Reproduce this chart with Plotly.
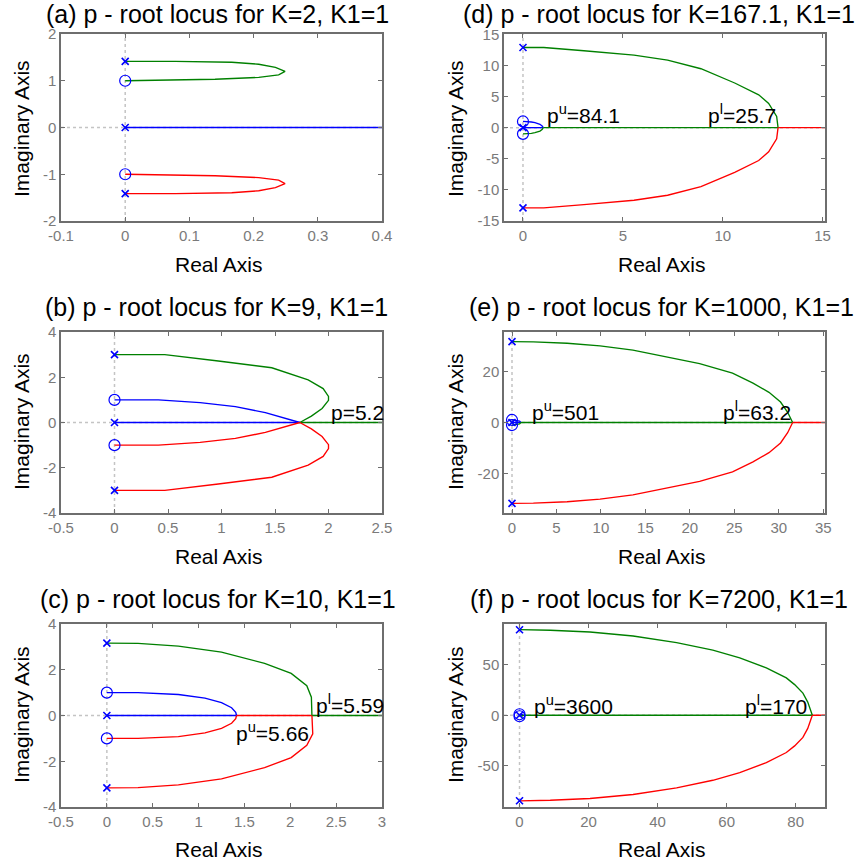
import plotly.graph_objects as go
from plotly.subplots import make_subplots

BLUE = "#0000ff"
GREEN = "#008000"
RED = "#ff0000"
FONT = "Liberation Sans, Arial, sans-serif"

# ---------------- (a) K=2 ----------------
A_POLE_RE = [0.0, 0.0, 0.0]
A_POLE_IM = [1.414, 0.0, -1.414]
A_ZERO_RE = [0.0, 0.0]
A_ZERO_IM = [1.0, -1.0]
A_UP_RE = [0.0, 0.078, 0.166, 0.208, 0.234, 0.249, 0.239, 0.208, 0.140, 0.078, 0.0]
A_UP_IM = [1.414, 1.414, 1.396, 1.353, 1.287, 1.20, 1.127, 1.072, 1.033, 1.018, 1.0]
A_LO_RE = [0.0, 0.078, 0.166, 0.208, 0.234, 0.249, 0.239, 0.208, 0.140, 0.078, 0.0]
A_LO_IM = [-1.414, -1.414, -1.396, -1.353, -1.287, -1.20, -1.127, -1.072, -1.033, -1.018, -1.0]
A_AXIS_RE = [0.0, 0.5]
A_AXIS_IM = [0.0, 0.0]

# ---------------- (b) K=9 ----------------
B_POLE_RE = [0.0, 0.0, 0.0]
B_POLE_IM = [3.0, 0.0, -3.0]
B_ZERO_RE = [0.0, 0.0]
B_ZERO_IM = [1.0, -1.0]
B_OUT_UP_RE = [0.0, 0.47, 0.97, 1.47, 1.81, 1.95, 2.0, 2.0, 1.94, 1.84, 1.732]
B_OUT_UP_IM = [3.0, 3.0, 2.72, 2.42, 1.88, 1.5, 1.15, 0.98, 0.62, 0.28, 0.0]
B_OUT_LO_RE = [0.0, 0.47, 0.97, 1.47, 1.81, 1.95, 2.0, 2.0, 1.94, 1.84, 1.732]
B_OUT_LO_IM = [-3.0, -3.0, -2.72, -2.42, -1.88, -1.5, -1.15, -0.98, -0.62, -0.28, 0.0]
B_IN_UP_RE = [0.0, 0.41, 0.80, 1.13, 1.41, 1.732]
B_IN_UP_IM = [1.0, 1.0, 0.88, 0.70, 0.44, 0.0]
B_IN_LO_RE = [0.0, 0.41, 0.80, 1.13, 1.41, 1.732]
B_IN_LO_IM = [-1.0, -1.0, -0.88, -0.70, -0.44, 0.0]
B_AXIS1_RE = [0.0, 1.732]
B_AXIS2_RE = [1.732, 3.0]

# ---------------- (c) K=10 ----------------
C_POLE_RE = [0.0, 0.0, 0.0]
C_POLE_IM = [3.162, 0.0, -3.162]
C_ZERO_RE = [0.0, 0.0]
C_ZERO_IM = [1.0, -1.0]
C_OUT_UP_RE = [0.0, 0.34, 0.78, 1.25, 1.72, 2.01, 2.18, 2.23, 2.236]
C_OUT_UP_IM = [3.162, 3.15, 3.03, 2.77, 2.28, 1.84, 1.30, 0.80, 0.0]
C_OUT_LO_RE = [0.0, 0.34, 0.78, 1.25, 1.72, 2.01, 2.18, 2.245, 2.236]
C_OUT_LO_IM = [-3.162, -3.15, -3.03, -2.77, -2.28, -1.84, -1.30, -0.80, 0.0]
C_IN_UP_RE = [0.0, 0.34, 0.78, 1.07, 1.25, 1.36, 1.405, 1.414]
C_IN_UP_IM = [1.0, 1.0, 0.92, 0.76, 0.56, 0.34, 0.14, 0.0]
C_IN_LO_RE = [0.0, 0.34, 0.78, 1.07, 1.25, 1.36, 1.405, 1.414]
C_IN_LO_IM = [-1.0, -1.0, -0.92, -0.76, -0.56, -0.34, -0.14, 0.0]
C_AXIS1_RE = [0.0, 1.414]
C_AXIS2_RE = [1.414, 2.236]
C_AXIS3_RE = [2.236, 3.5]

# ---------------- (d) K=167.1 ----------------
D_POLE_RE = [0.0, 0.0, 0.0]
D_POLE_IM = [12.93, 0.0, -12.93]
D_ZERO_RE = [0.0, 0.0]
D_ZERO_IM = [1.0, -1.0]
D_OUT_UP_RE = [0.0, 1.04, 3.05, 5.56, 7.24, 8.91, 10.6, 11.8, 12.3, 12.7, 12.77]
D_OUT_UP_IM = [12.93, 12.93, 12.4, 11.7, 10.9, 9.5, 7.2, 5.3, 3.9, 1.8, 0.0]
D_OUT_LO_RE = [0.0, 1.04, 3.05, 5.56, 7.24, 8.91, 10.6, 11.8, 12.3, 12.7, 12.77]
D_OUT_LO_IM = [-12.93, -12.93, -12.4, -11.7, -10.9, -9.5, -7.2, -5.3, -3.9, -1.8, 0.0]
D_IN_UP_RE = [0.0, 0.21, 0.42, 0.60, 0.85, 0.97, 1.01]
D_IN_UP_IM = [1.0, 0.98, 0.91, 0.80, 0.55, 0.25, 0.0]
D_IN_LO_RE = [0.0, 0.21, 0.42, 0.60, 0.85, 0.97, 1.01]
D_IN_LO_IM = [-1.0, -0.98, -0.91, -0.80, -0.55, -0.25, 0.0]
D_AXIS1_RE = [0.0, 1.01]
D_AXIS2_RE = [1.01, 12.77]
D_AXIS3_RE = [12.77, 17.0]

# ---------------- (e) K=1000 ----------------
E_POLE_RE = [0.0, 0.0, 0.0]
E_POLE_IM = [31.62, 0.0, -31.62]
E_ZERO_RE = [0.0, 0.0]
E_ZERO_IM = [1.0, -1.0]
E_OUT_UP_RE = [0.0, 2.4, 6.2, 9.9, 13.6, 17.4, 21.1, 24.8, 27.1, 28.9, 30.2, 31.0, 31.56]
E_OUT_UP_IM = [31.62, 31.55, 31.0, 30.0, 28.3, 25.6, 23.0, 19.3, 15.4, 11.8, 8.0, 4.0, 0.0]
E_OUT_LO_RE = [0.0, 2.4, 6.2, 9.9, 13.6, 17.4, 21.1, 24.8, 27.1, 28.9, 30.2, 31.0, 31.56]
E_OUT_LO_IM = [-31.62, -31.55, -31.0, -30.0, -28.3, -25.6, -23.0, -19.3, -15.4, -11.8, -8.0, -4.0, 0.0]
E_IN_UP_RE = [0.0, 0.42, 0.85, 1.0]
E_IN_UP_IM = [1.0, 0.91, 0.55, 0.0]
E_IN_LO_RE = [0.0, 0.42, 0.85, 1.0]
E_IN_LO_IM = [-1.0, -0.91, -0.55, 0.0]
E_AXIS1_RE = [0.0, 1.0]
E_AXIS2_RE = [1.0, 31.56]
E_AXIS3_RE = [31.56, 40.0]

# ---------------- (f) K=7200 ----------------
F_POLE_RE = [0.0, 0.0, 0.0]
F_POLE_IM = [84.85, 0.0, -84.85]
F_ZERO_RE = [0.0, 0.0]
F_ZERO_IM = [1.0, -1.0]
F_OUT_UP_RE = [0.0, 8.9, 20.4, 32.9, 45.5, 56.0, 63.8, 71.5, 77.3, 79.7, 82.1, 83.5, 84.83]
F_OUT_UP_IM = [84.85, 84.3, 82.6, 78.6, 72.0, 64.5, 57.0, 47.0, 37.0, 30.4, 22.0, 13.0, 0.0]
F_OUT_LO_RE = [0.0, 8.9, 20.4, 32.9, 45.5, 56.0, 63.8, 71.5, 77.3, 79.7, 82.1, 83.5, 84.83]
F_OUT_LO_IM = [-84.85, -84.3, -82.6, -78.6, -72.0, -64.5, -57.0, -47.0, -37.0, -30.4, -22.0, -13.0, 0.0]
F_IN_UP_RE = [0.0, 0.42, 0.85, 1.0]
F_IN_UP_IM = [1.0, 0.91, 0.55, 0.0]
F_IN_LO_RE = [0.0, 0.42, 0.85, 1.0]
F_IN_LO_IM = [-1.0, -0.91, -0.55, 0.0]
F_AXIS1_RE = [0.0, 1.0]
F_AXIS2_RE = [1.0, 84.83]
F_AXIS3_RE = [84.83, 95.0]

# ---------------- axes: ranges and ticks ----------------
A_XRANGE, A_YRANGE = [-0.1, 0.4], [-2, 2]
A_XTICKS, A_YTICKS = [-0.1, 0, 0.1, 0.2, 0.3, 0.4], [-2, -1, 0, 1, 2]
B_XRANGE, B_YRANGE = [-0.5, 2.5], [-4, 4]
B_XTICKS, B_YTICKS = [-0.5, 0, 0.5, 1, 1.5, 2, 2.5], [-4, -2, 0, 2, 4]
C_XRANGE, C_YRANGE = [-0.5, 3], [-4, 4]
C_XTICKS, C_YTICKS = [-0.5, 0, 0.5, 1, 1.5, 2, 2.5, 3], [-4, -2, 0, 2, 4]
D_XRANGE, D_YRANGE = [-0.95, 15.12], [-15.05, 15.1]
D_XTICKS, D_YTICKS = [0, 5, 10, 15], [-15, -10, -5, 0, 5, 10, 15]
E_XRANGE, E_YRANGE = [-0.9, 35.2], [-35.4, 35.4]
E_XTICKS, E_YTICKS = [0, 5, 10, 15, 20, 25, 30, 35], [-20, 0, 20]
F_XRANGE, F_YRANGE = [-4.5, 88.5], [-91.0, 90.5]
F_XTICKS, F_YTICKS = [0, 20, 40, 60, 80], [-50, 0, 50]

TITLES = [
    "(a) p - root locus for K=2, K1=1",
    "(d) p - root locus for K=167.1, K1=1",
    "(b) p - root locus for K=9, K1=1",
    "(e) p - root locus for K=1000, K1=1",
    "(c) p - root locus for K=10, K1=1",
    "(f) p - root locus for K=7200, K1=1",
]

W, H = 862, 867
fig = make_subplots(rows=3, cols=2)

# panel geometry in pixels: (left, right) and (top, bottom)
COLS = [(61, 382), (504, 825)]
ROWS = [(34, 221), (332, 513), (624, 807)]


def px(x):
    return x / W


def py(y):
    return 1 - y / H


def branch(row, col, re, im, color):
    fig.add_trace(go.Scatter(x=re, y=im, mode="lines",
                             line=dict(color=color, width=1.35),
                             showlegend=False, hoverinfo="skip"),
                  row=row, col=col)


def marks(row, col, pre, pim, zre, zim):
    fig.add_trace(go.Scatter(x=zre, y=zim, mode="markers",
                             marker=dict(symbol="circle-open", size=11,
                                         color=BLUE, line=dict(width=1.2, color=BLUE)),
                             showlegend=False, hoverinfo="skip"),
                  row=row, col=col)
    fig.add_trace(go.Scatter(x=pre, y=pim, mode="markers",
                             marker=dict(symbol="x-thin", size=7,
                                         color=BLUE, line=dict(width=1.6, color=BLUE)),
                             showlegend=False, hoverinfo="skip"),
                  row=row, col=col)


def zeros_like(seq):
    return [0.0 for _ in seq]


# (a)
branch(1, 1, A_AXIS_RE, A_AXIS_IM, BLUE)
branch(1, 1, A_UP_RE, A_UP_IM, GREEN)
branch(1, 1, A_LO_RE, A_LO_IM, RED)
marks(1, 1, A_POLE_RE, A_POLE_IM, A_ZERO_RE, A_ZERO_IM)

# (b)
branch(2, 1, B_AXIS1_RE, zeros_like(B_AXIS1_RE), BLUE)
branch(2, 1, B_AXIS2_RE, zeros_like(B_AXIS2_RE), GREEN)
branch(2, 1, B_IN_UP_RE, B_IN_UP_IM, BLUE)
branch(2, 1, B_IN_LO_RE, B_IN_LO_IM, RED)
branch(2, 1, B_OUT_UP_RE, B_OUT_UP_IM, GREEN)
branch(2, 1, B_OUT_LO_RE, B_OUT_LO_IM, RED)
marks(2, 1, B_POLE_RE, B_POLE_IM, B_ZERO_RE, B_ZERO_IM)

# (c)
branch(3, 1, C_AXIS1_RE, zeros_like(C_AXIS1_RE), BLUE)
branch(3, 1, C_AXIS2_RE, zeros_like(C_AXIS2_RE), RED)
branch(3, 1, C_AXIS3_RE, zeros_like(C_AXIS3_RE), GREEN)
branch(3, 1, C_IN_UP_RE, C_IN_UP_IM, BLUE)
branch(3, 1, C_IN_LO_RE, C_IN_LO_IM, RED)
branch(3, 1, C_OUT_UP_RE, C_OUT_UP_IM, GREEN)
branch(3, 1, C_OUT_LO_RE, C_OUT_LO_IM, RED)
marks(3, 1, C_POLE_RE, C_POLE_IM, C_ZERO_RE, C_ZERO_IM)

# (d), (e), (f)
for row, ax1, ax2, ax3, iu_re, iu_im, il_re, il_im, ou_re, ou_im, ol_re, ol_im, pre, pim, zre, zim in [
    (1, D_AXIS1_RE, D_AXIS2_RE, D_AXIS3_RE, D_IN_UP_RE, D_IN_UP_IM, D_IN_LO_RE, D_IN_LO_IM,
     D_OUT_UP_RE, D_OUT_UP_IM, D_OUT_LO_RE, D_OUT_LO_IM, D_POLE_RE, D_POLE_IM, D_ZERO_RE, D_ZERO_IM),
    (2, E_AXIS1_RE, E_AXIS2_RE, E_AXIS3_RE, E_IN_UP_RE, E_IN_UP_IM, E_IN_LO_RE, E_IN_LO_IM,
     E_OUT_UP_RE, E_OUT_UP_IM, E_OUT_LO_RE, E_OUT_LO_IM, E_POLE_RE, E_POLE_IM, E_ZERO_RE, E_ZERO_IM),
    (3, F_AXIS1_RE, F_AXIS2_RE, F_AXIS3_RE, F_IN_UP_RE, F_IN_UP_IM, F_IN_LO_RE, F_IN_LO_IM,
     F_OUT_UP_RE, F_OUT_UP_IM, F_OUT_LO_RE, F_OUT_LO_IM, F_POLE_RE, F_POLE_IM, F_ZERO_RE, F_ZERO_IM),
]:
    branch(row, 2, ax1, zeros_like(ax1), BLUE)
    branch(row, 2, ax2, zeros_like(ax2), GREEN)
    branch(row, 2, ax3, zeros_like(ax3), RED)
    branch(row, 2, iu_re, iu_im, BLUE)
    branch(row, 2, il_re, il_im, GREEN)
    branch(row, 2, ou_re, ou_im, GREEN)
    branch(row, 2, ol_re, ol_im, RED)
    marks(row, 2, pre, pim, zre, zim)


def fmt(v):
    return f"{v:g}"


AXES = [
    (1, 1, A_XRANGE, A_YRANGE, A_XTICKS, A_YTICKS),
    (1, 2, D_XRANGE, D_YRANGE, D_XTICKS, D_YTICKS),
    (2, 1, B_XRANGE, B_YRANGE, B_XTICKS, B_YTICKS),
    (2, 2, E_XRANGE, E_YRANGE, E_XTICKS, E_YTICKS),
    (3, 1, C_XRANGE, C_YRANGE, C_XTICKS, C_YTICKS),
    (3, 2, F_XRANGE, F_YRANGE, F_XTICKS, F_YTICKS),
]

AX_STYLE = dict(showline=True, linecolor="#6e6e6e", linewidth=1.5, mirror="ticks",
                ticks="inside", ticklen=4, tickwidth=1, tickcolor="#6e6e6e",
                showgrid=False, zeroline=False, automargin=False,
                tickfont=dict(family=FONT, size=15, color="#7a7a7a"))

shapes = []
annotations = []
for i, (row, col, xr, yr, xt, yt) in enumerate(AXES):
    n = i + 1
    xl, xrgt = COLS[col - 1]
    yt_px, yb_px = ROWS[row - 1]
    xname = "xaxis" if n == 1 else f"xaxis{n}"
    yname = "yaxis" if n == 1 else f"yaxis{n}"
    fig.layout[xname].update(domain=[px(xl), px(xrgt)], range=xr,
                             tickvals=xt, ticktext=[fmt(v) for v in xt], **AX_STYLE)
    fig.layout[yname].update(domain=[py(yb_px), py(yt_px)], range=yr,
                             tickvals=yt, ticktext=[fmt(v) for v in yt], **AX_STYLE)
    xref = "x" if n == 1 else f"x{n}"
    yref = "y" if n == 1 else f"y{n}"
    # dotted gray reference lines through the origin
    shapes.append(dict(type="line", xref=xref, yref=f"{yref} domain", x0=0, x1=0, y0=0, y1=1,
                       line=dict(color="#c4c4c4", width=1.5, dash="dot"), layer="below"))
    shapes.append(dict(type="line", xref=f"{xref} domain", yref=yref, x0=0, x1=1, y0=0, y1=0,
                       line=dict(color="#c4c4c4", width=1.5, dash="dot"), layer="below"))

# titles and axis labels (pixel positions)
TITLE_POS = [(217, 14), (659, 14), (216, 307), (661, 307), (218, 599), (659, 599)]
XLAB_POS = [(219, 264), (662, 265), (219, 556), (662, 556), (219, 849), (662, 849)]
YLAB_POS = [(21, 129), (455, 129), (21, 422), (455, 422), (21, 715), (455, 715)]
for t, (tx, ty), (lx, ly), (vx, vy) in zip(TITLES, TITLE_POS, XLAB_POS, YLAB_POS):
    annotations.append(dict(text=t, x=px(tx), y=py(ty), xref="paper", yref="paper",
                            xanchor="center", yanchor="middle", showarrow=False,
                            font=dict(family=FONT, size=25, color="black")))
    annotations.append(dict(text="Real Axis", x=px(lx), y=py(ly), xref="paper", yref="paper",
                            xanchor="center", yanchor="middle", showarrow=False,
                            font=dict(family=FONT, size=21, color="black")))
    annotations.append(dict(text="Imaginary Axis", x=px(vx), y=py(vy), xref="paper", yref="paper",
                            xanchor="center", yanchor="middle", showarrow=False, textangle=-90,
                            font=dict(family=FONT, size=21, color="black")))

# gain labels at the breakaway points
P_LABELS = [
    ("x3", "y3", 2.0, 0.45, "p=5.2"),
    ("x5", "y5", 2.26, 0.5, "p<sup>l</sup>=5.59"),
    ("x5", "y5", 1.39, -0.72, "p<sup>u</sup>=5.66"),
    ("x2", "y2", 1.12, 2.2, "p<sup>u</sup>=84.1"),
    ("x2", "y2", 9.16, 2.2, "p<sup>l</sup>=25.7"),
    ("x4", "y4", 2.05, 4.5, "p<sup>u</sup>=501"),
    ("x4", "y4", 23.5, 4.5, "p<sup>l</sup>=63.2"),
    ("x6", "y6", 3.7, 10.0, "p<sup>u</sup>=3600"),
    ("x6", "y6", 64.7, 10.0, "p<sup>l</sup>=170"),
]
for xr_, yr_, x, y, t in P_LABELS:
    annotations.append(dict(text=t, x=x, y=y, xref=xr_, yref=yr_, xanchor="left",
                            yanchor="middle", showarrow=False,
                            font=dict(family=FONT, size=21, color="black")))

fig.update_layout(width=W, height=H, margin=dict(l=0, r=0, t=0, b=0, autoexpand=False),
                  paper_bgcolor="white", plot_bgcolor="white",
                  shapes=shapes, annotations=annotations, showlegend=False)

fig.write_html("out.html")
